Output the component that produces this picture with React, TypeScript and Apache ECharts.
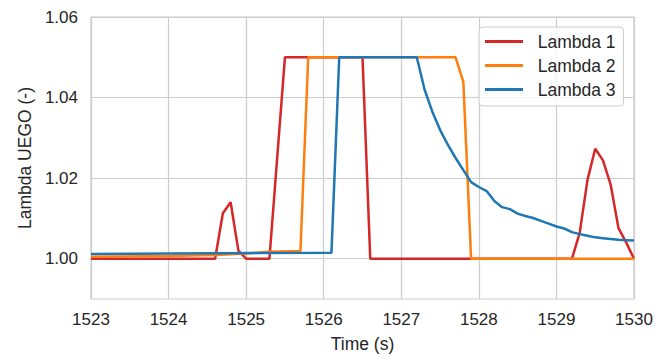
import React, { useEffect, useRef } from "react";
import * as echarts from "echarts";

const seriesNames = ["Lambda 1", "Lambda 2", "Lambda 3"];
const seriesColors = ["#d62728", "#ff7f0e", "#1f77b4"];

const lambda1Time = [1523.0, 1524.6, 1524.7, 1524.8, 1524.9, 1525.0, 1525.3, 1525.5, 1526.5, 1526.6, 1529.2, 1529.3, 1529.4, 1529.5, 1529.6, 1529.7, 1529.8, 1529.9, 1530.0];
const lambda1Values = [1.0, 1.0, 1.0113, 1.014, 1.002, 1.0, 1.0, 1.05, 1.05, 1.0, 1.0, 1.0064, 1.0195, 1.0273, 1.0244, 1.0183, 1.0076, 1.004, 1.0];

const lambda2Time = [1523.0, 1524.0, 1524.6, 1525.0, 1525.3, 1525.7, 1525.8, 1527.7, 1527.8, 1527.9, 1530.0];
const lambda2Values = [1.0005, 1.0007, 1.0009, 1.0013, 1.0017, 1.0019, 1.05, 1.05, 1.0439, 1.0, 1.0];

const lambda3Time = [1523.0, 1526.1, 1526.2, 1527.2, 1527.3, 1527.4, 1527.5, 1527.6, 1527.7, 1527.8, 1527.9, 1528.0, 1528.1, 1528.2, 1528.3, 1528.4, 1528.5, 1528.6, 1528.7, 1528.8, 1528.9, 1529.0, 1529.1, 1529.2, 1529.3, 1529.4, 1529.5, 1529.6, 1529.7, 1529.8, 1529.9, 1530.0];
const lambda3Values = [1.0012, 1.0015, 1.05, 1.05, 1.042, 1.0365, 1.032, 1.0283, 1.025, 1.022, 1.019, 1.0178, 1.0168, 1.0143, 1.0128, 1.0123, 1.0112, 1.0106, 1.0101, 1.0094, 1.0087, 1.008, 1.0075, 1.0066, 1.0061, 1.0057, 1.0053, 1.0051, 1.0049, 1.0047, 1.0046, 1.0045];

const xTicks = { min: 1523, max: 1530, step: 1 };
const yTicks = { min: 0.99, max: 1.06, step: 0.01 };

const FONT = "'Liberation Sans', Arial, sans-serif";
const TEXT = "#262626";
const GRID = "#cccccc";

function zip(t: number[], v: number[]) {
  return t.map((x, i) => [x, v[i]]);
}

export default function App() {
  const ref = useRef<HTMLDivElement>(null);
  useEffect(() => {
    if (!ref.current) return;
    const chart = echarts.init(ref.current, undefined, { renderer: "svg" });
    const data = [
      zip(lambda1Time, lambda1Values),
      zip(lambda2Time, lambda2Values),
      zip(lambda3Time, lambda3Values),
    ];
    chart.setOption({
      animation: false,
      backgroundColor: "#ffffff",
      textStyle: { fontFamily: FONT },
      grid: {
        left: 91,
        right: 36,
        top: 17,
        bottom: 56,
        show: true,
        borderColor: GRID,
        borderWidth: 1.2,
        containLabel: false,
      },
      xAxis: {
        type: "value",
        min: xTicks.min,
        max: xTicks.max,
        interval: xTicks.step,
        axisLine: { show: false },
        axisTick: { show: false },
        axisLabel: {
          color: TEXT,
          fontSize: 17,
          margin: 12,
          fontFamily: FONT,
          showMinLabel: true,
          showMaxLabel: true,
          formatter: (v: number) => String(Math.round(v)),
        },
        splitLine: { show: true, lineStyle: { color: GRID, width: 1.2 } },
        name: "Time (s)",
        nameLocation: "middle",
        nameGap: 36,
        nameTextStyle: { color: TEXT, fontSize: 17.5, fontFamily: FONT },
      },
      yAxis: {
        type: "value",
        min: yTicks.min,
        max: yTicks.max,
        interval: yTicks.step,
        axisLine: { show: false },
        axisTick: { show: false },
        axisLabel: {
          color: TEXT,
          fontSize: 17,
          margin: 13,
          fontFamily: FONT,
          showMinLabel: true,
          showMaxLabel: true,
          formatter: (v: number) => (Math.round(v * 100) % 2 === 0 ? v.toFixed(2) : ""),
        },
        splitLine: {
          show: true,
          lineStyle: { color: ["rgba(0,0,0,0)", GRID], width: 1.2 },
        },
        name: "Lambda UEGO (-)",
        nameLocation: "middle",
        nameGap: 55,
        nameTextStyle: { color: TEXT, fontSize: 17.5, fontFamily: FONT },
      },
      legend: {
        left: 479,
        top: 27,
        orient: "vertical",
        icon: "rect",
        itemWidth: 38,
        itemHeight: 3,
        itemGap: 5,
        padding: [5, 8, 7, 6],
        backgroundColor: "rgba(255,255,255,0.8)",
        borderColor: GRID,
        borderWidth: 1,
        borderRadius: 4,
        itemStyle: { borderWidth: 0 },
        formatter: (name: string) => "  " + name,
        textStyle: { color: TEXT, fontSize: 17.5, lineHeight: 19, fontFamily: FONT },
        data: seriesNames,
      },
      series: seriesNames.map((name, i) => ({
        name,
        type: "line",
        data: data[i],
        symbol: "none",
        color: seriesColors[i],
        lineStyle: { color: seriesColors[i], width: 2.5 },
      })),
    });
    return () => chart.dispose();
  }, []);
  return <div ref={ref} style={{ width: 670, height: 358, position: "absolute", left: 0, top: 0 }} />;
}
